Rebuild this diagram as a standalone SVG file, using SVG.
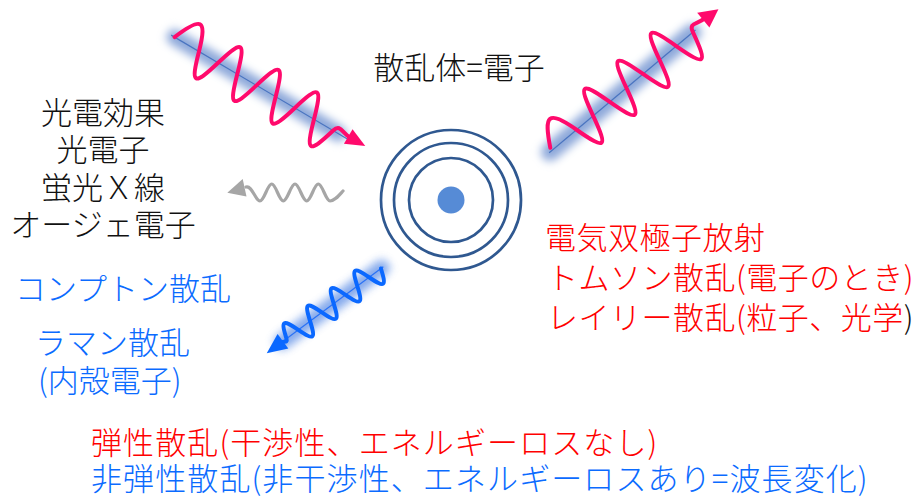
<svg xmlns="http://www.w3.org/2000/svg" width="919" height="499" viewBox="0 0 919 499">
  <style>
    .jp { font-family: "Noto Sans CJK JP", "Noto Sans", sans-serif; font-size: 31px; font-weight: 300; }
    .black { fill: #111111; }
    .red { fill: #ff0000; }
    .blue { fill: #0b6bff; }
    .shell { fill: none; stroke: #2f5890; stroke-width: 2.7; }
    .pink { fill: none; stroke: #ff0a6c; stroke-width: 4; stroke-linecap: round; stroke-linejoin: round; }
    .pinkhead { fill: #ff0a6c; }
    .bluewave { fill: none; stroke: #0a68ff; stroke-width: 4; stroke-linecap: round; stroke-linejoin: round; }
    .bluehead { fill: #0a68ff; }
    .grey { fill: none; stroke: #a6a6a6; stroke-width: 3.2; stroke-linecap: round; }
    .axis { stroke: #4a74c0; stroke-width: 1.2; }
  </style>
  <defs>
    <filter id="soft" filterUnits="userSpaceOnUse" x="-80" y="-80" width="400" height="160">
      <feGaussianBlur stdDeviation="4"/>
    </filter>
  </defs>

  <!-- scatterer: electron with shells -->
  <g id="electron">
    <circle class="shell" cx="451" cy="200" r="70"/>
    <circle class="shell" cx="451" cy="200" r="57"/>
    <circle class="shell" cx="451" cy="200" r="42"/>
    <circle cx="451" cy="200" r="13.5" fill="#568bd6"/>
  </g>

  <g id="rays">
    <!-- incident photon -->
    <g id="ray-incident" transform="translate(179.8,40.2) rotate(30.5)">
      <rect x="-14" y="-8" width="206" height="16" rx="8" fill="#8ea9da" filter="url(#soft)"/>
      <line class="axis" x1="-10" y1="0" x2="194" y2="0"/>
      <path class="pink" d="M-6,0 C6.5,-31 12.81,-32.67 22.25,0 s12.81,32.67 22.25,0 s12.81,-32.67 22.25,0 s12.81,32.67 22.25,0 s12.81,-32.67 22.25,0 s12.81,32.67 22.25,0 s12.81,-32.67 22.25,0 s12.81,32.67 22.25,0 C180.8,-9.7 187,-2.5 196,-2.5"/>
      <polygon class="pinkhead" points="194,-11 213.5,-3 194,6"/>
    </g>

    <!-- scattered photon -->
    <g id="ray-scattered" transform="translate(559.9,143.7) rotate(-40)">
      <rect x="-22" y="-9" width="204" height="18" rx="9" fill="#8ea9da" filter="url(#soft)"/>
      <line class="axis" x1="-14" y1="0" x2="177" y2="0"/>
      <path class="pink" d="M-10,-3 C6,-32 12.49,-34.5 21.7,0 s12.49,34.5 21.7,0 s12.49,-34.5 21.7,0 s12.49,34.5 21.7,0 s12.49,-34.5 21.7,0 s12.49,34.5 21.7,0 s12.49,-34.5 21.7,0 s12.49,34.5 21.7,0 C176.3,-10.4 182,-3 191,-3"/>
      <polygon class="pinkhead" points="189.3,-12 207.8,-1 189.3,7"/>
    </g>

    <!-- recoil / Compton photon -->
    <g id="ray-compton" transform="translate(383.3,266.7) rotate(143.4)">
      <rect x="-6" y="-8" width="140" height="16" rx="8" fill="#5d8ee6" opacity="0.75" filter="url(#soft)"/>
      <line x1="0" y1="0" x2="132" y2="0" stroke="#2a72f5" stroke-width="1.2"/>
      <path class="bluewave" d="M3,0 c6.24,-18 8.46,-18 14.7,0 s8.46,18 14.7,0 s8.46,-18 14.7,0 s8.46,18 14.7,0 s8.46,-18 14.7,0 s8.46,18 14.7,0 s8.46,-18 14.7,0 s8.46,18 14.7,0 C122.5,-5 124,0 127,0"/>
      <polygon class="bluehead" points="125,-9 145.2,0 125,9"/>
    </g>

    <!-- fluorescence photon -->
    <g id="ray-fluorescence">
      <path class="grey" d="M246,187 C252,185 255.5,201 260,201 C264.2,201 267.5,184 271.7,184 C275.9,184 279.1,201 283.3,201 C287.5,201 290.8,184 295,184 C299.2,184 302.5,201 306.7,201 C310.9,201 314.1,184 318.3,184 C322.5,184 325.8,201 330,201 C334.5,201 338.5,196 343,191"/>
      <polygon fill="#a6a6a6" points="227.3,192.7 242.7,179 246.5,196.5"/>
    </g>
  </g>

  <g id="label-scatterer">
    <text class="jp black" x="459" y="79" text-anchor="middle">散乱体=電子</text>
  </g>

  <g id="label-photoeffect">
    <text class="jp black" text-anchor="middle"><tspan x="103" y="123.5">光電効果</tspan><tspan x="103" y="161">光電子</tspan><tspan x="103" y="198.5">蛍光Ｘ線</tspan><tspan x="103" y="236">オージェ電子</tspan></text>
  </g>

  <g id="label-compton">
    <text class="jp blue" x="15" y="300">コンプトン散乱</text>
  </g>

  <g id="label-raman">
    <text class="jp blue"><tspan x="35" y="354">ラマン散乱</tspan><tspan x="38" y="392">(内殻電子)</tspan></text>
  </g>

  <g id="label-dipole">
    <text class="jp red" letter-spacing="0.5"><tspan x="545" y="248.5">電気双極子放射</tspan><tspan x="547" y="288.5">トムソン散乱(電子のとき)</tspan><tspan x="547" y="328.5">レイリー散乱(粒子、光学</tspan><tspan class="black">)</tspan></text>
  </g>

  <g id="label-legend">
    <text class="jp" letter-spacing="1.1"><tspan class="red" x="91" y="454">弾性散乱(干渉性、エネルギーロスなし)</tspan><tspan class="blue" x="91" y="490">非弾性散乱(非干渉性、エネルギーロスあり=波長変化)</tspan></text>
  </g>
</svg>
